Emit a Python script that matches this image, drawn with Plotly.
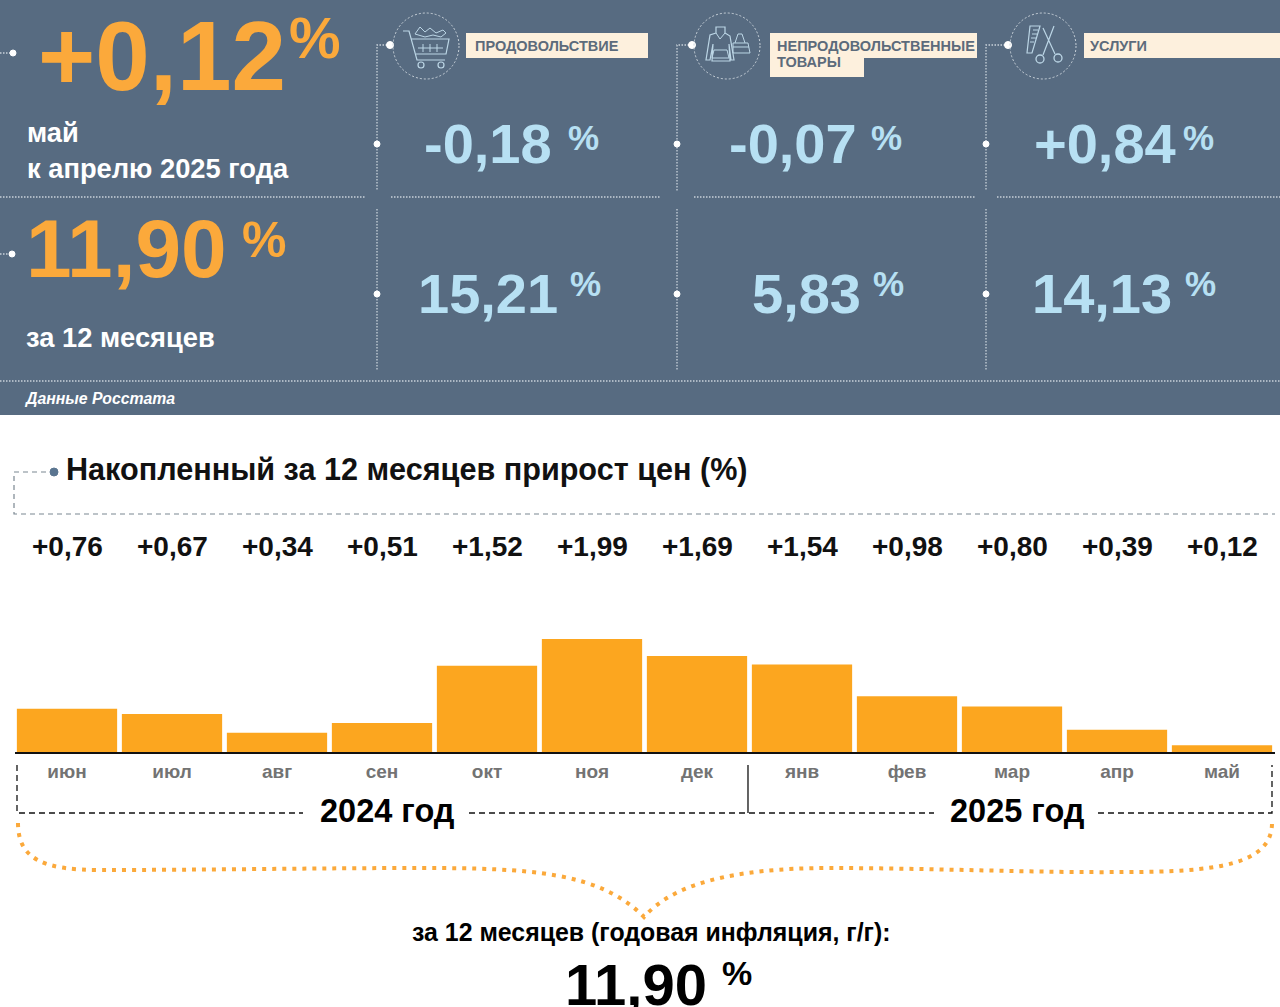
import re
import plotly.graph_objects as go

W, H = 1280, 1007

# ======================
# DATA
# ======================
months = ["июн", "июл", "авг", "сен", "окт", "ноя", "дек", "янв", "фев", "мар", "апр", "май"]
monthly_growth = [0.76, 0.67, 0.34, 0.51, 1.52, 1.99, 1.69, 1.54, 0.98, 0.80, 0.39, 0.12]

categories = ["ПРОДОВОЛЬСТВИЕ", "НЕПРОДОВОЛЬСТВЕННЫЕ", "ТОВАРЫ", "УСЛУГИ"]
month_values = ["-0,18", "-0,07", "+0,84"]
year_values = ["15,21", "5,83", "14,13"]

headline_month = "+0,12"
headline_year = "11,90"

PANEL = "#576b81"
ORANGE = "#fba93b"
BAR = "#fca61f"
BLUE = "#b7e0f3"
CREAM = "#fdf0dd"
DOTS = "#c9d2da"
ICON = "#bcd6e6"

FONT = "Liberation Sans"


# pixel -> paper helpers
def px(x):
    return x / W


def py(y):
    return 1 - y / H


def svg(d):
    # path written in pixels, converted to paper coords
    n = [0]

    def conv(m):
        v = float(m.group())
        n[0] += 1
        return f"{px(v):.5f}" if n[0] % 2 == 1 else f"{py(v):.5f}"

    return re.sub(r"\d+\.?\d*", conv, d)


shapes = []
notes = []


def rect(x0, y0, x1, y1, color):
    shapes.append(dict(type="rect", xref="paper", yref="paper", x0=px(x0), x1=px(x1),
                       y0=py(y0), y1=py(y1), fillcolor=color, line_width=0, layer="below"))


def line(d, color=DOTS, width=1.3, dash="solid"):
    shapes.append(dict(type="path", xref="paper", yref="paper", path=svg(d),
                       line=dict(color=color, width=width, dash=dash)))


def circle(cx, cy, r, fill=None, color=DOTS, width=1, dash="solid"):
    shapes.append(dict(type="circle", xref="paper", yref="paper",
                       x0=px(cx - r), x1=px(cx + r), y0=py(cy - r), y1=py(cy + r),
                       fillcolor=fill if fill else "rgba(0,0,0,0)",
                       line=dict(color=color, width=width, dash=dash)))


def note(x, y, text, size, color="#000000", weight=700, anchor="left", style="normal"):
    # annotations sit about 2px right of the anchor
    x = x - 2 if anchor == "left" else x
    notes.append(dict(xref="paper", yref="paper", x=px(x), y=py(y), text=text,
                      showarrow=False, xanchor=anchor, yanchor="middle", align="left",
                      font=dict(family=FONT, size=size, color=color, weight=weight, style=style)))


# ======================
# TOP PANEL
# ======================
rect(0, 0, W, 415, PANEL)

DOT_DASH = "1.5px,1.5px"
for x0, x1 in [(0, 365), (391, 660), (694, 976), (997, 1280)]:
    line(f"M{x0} 197 L{x1} 197", dash=DOT_DASH)
line("M0 381 L1280 381", dash=DOT_DASH)

for xv, xdot, xc in [(377, 390, 426), (677, 692, 727), (986, 1008, 1043)]:
    line(f"M{xdot} 45 L{xv} 45 L{xv} 191", dash=DOT_DASH)
    line(f"M{xv} 209 L{xv} 371", dash=DOT_DASH)
    circle(xdot, 45, 3.5, fill="#ffffff", color="#ffffff")
    circle(xv, 144, 3, fill="#ffffff", color="#ffffff")
    circle(xv, 294, 3, fill="#ffffff", color="#ffffff")
    circle(xc, 46, 33, dash="2px,2px")

line("M0 53 L10 53", dash=DOT_DASH)
circle(13, 53, 3, fill="#ffffff", color="#ffffff")
line("M0 254 L10 254", dash=DOT_DASH)
circle(12, 254, 3, fill="#ffffff", color="#ffffff")

# category tags
rect(466, 33, 648, 58, CREAM)
rect(770, 33, 977, 58, CREAM)
rect(770, 58, 864, 77, CREAM)
rect(1084, 33, 1280, 58, CREAM)
note(475, 46, categories[0], 14.5, "#5c6b7b")
note(777, 46, categories[1], 14.5, "#5c6b7b")
note(777, 62, categories[2], 14.5, "#5c6b7b")
note(1090, 46, categories[3], 14.5, "#5c6b7b")

# cart icon
line("M403 31 L409 31 L417 60 L445 60", ICON, 1.2)
line("M411 39 L449 39 L446 54 L416 54", ICON, 1.2)
line("M418 48 L443 48 M423 44 L423 52 M430 44 L430 52 M437 44 L437 52", ICON, 1)
line("M415 34 L420 27 L425 32 L430 28 L436 33 L443 30 L446 33 L441 37 L433 35 L425 37 Z", ICON, 1)
circle(421, 65, 3, color=ICON, width=1.2)
circle(441, 65, 3, color=ICON, width=1.2)

# clothes icon
line("M716 33 L710 35 L706 60 L710 60 L713 44 L712 61 L730 61 L729 44 L731 60 L734 60 "
     "L730 36 L725 33 L725 27 L716 27 Z", ICON, 1.2)
line("M716 33 L720 39 L725 33 M714 50 L727 50 L729 58 L712 58 Z", ICON, 1)
line("M733 43 L748 43 L750 53 L733 53 Z M735 43 L738 34 L742 34 L745 43 M733 47 L749 47", ICON, 1)

# scissors / comb icon
line("M1030 26 L1040 26 L1032 53 L1027 53 Z M1033 30 L1038 30 M1032 34 L1037 34 "
     "M1031 38 L1036 38 M1030 42 L1034 42", ICON, 1.2)
line("M1043 28 L1055 54 M1054 26 L1043 55", ICON, 1.2)
circle(1058, 58, 4, color=ICON, width=1.3)
circle(1040, 59, 4, color=ICON, width=1.3)

# headline numbers
note(38, 56, headline_month, 98, ORANGE)
note(289, 38, "%", 58, ORANGE)
note(27, 133, "май", 27.3, "#ffffff")
note(27, 168, "к апрелю 2025 года", 27.3, "#ffffff")
note(26, 249, headline_year, 82, ORANGE)
note(242, 240, "%", 50, ORANGE)
note(26, 337, "за 12 месяцев", 27.3, "#ffffff")
note(24, 398, "Данные Росстата", 15.8, "#ffffff", style="italic")

for val, x_num, x_pct in zip(month_values, [424, 729, 1034], [568, 871, 1183]):
    note(x_num, 144, val, 56, BLUE)
    note(x_pct, 137, "%", 35, BLUE)
for val, x_num, x_pct in zip(year_values, [418, 752, 1032], [570, 873, 1185]):
    note(x_num, 293, val, 56, BLUE)
    note(x_pct, 283, "%", 35, BLUE)

# ======================
# LOWER PART
# ======================
line("M46 472 L14 472 L14 514 L1275 514", "#7b8791", 1.2, "5px,4px")
circle(54, 472, 4, fill="#5a7590", color="#5a7590")
note(66, 469, "Накопленный за 12 месяцев прирост цен (%)", 30.6, "#111111")

for i, v in enumerate(monthly_growth):
    label = f"{v:+.2f}".replace(".", ",")
    notes.append(dict(xref="x", yref="paper", x=i, y=py(546), text=label, showarrow=False,
                      xanchor="center", yanchor="middle",
                      font=dict(family=FONT, size=28, color="#111111", weight=700)))

DASH = "6px,4px"
line("M17 765 L17 813 L303 813 M469 813 L748 813 L934 813 "
     "M1098 813 L1272 813 L1272 765", "#111111", 1.3, DASH)
line("M748 765 L748 813", "#111111", 1.3)
note(320, 811, "2024 год", 32.5)
note(950, 811, "2025 год", 32.5)

line("M18 823 C18 860 45 870 100 870 C200 870 320 868 421 868 "
     "C530 868 600 872 644 917 C672 885 730 868 830 868 "
     "C930 868 1040 873 1125 872 C1215 872 1272 865 1272 823", ORANGE, 4, "4px,6px")

note(651, 932, "за 12 месяцев (годовая инфляция, г/г):", 24.9, anchor="center")
note(565, 984, headline_year, 58)
note(722, 973, "%", 34)

# ======================
# BARS
# ======================
fig = go.Figure(go.Bar(
    x=months,
    y=monthly_growth,
    width=0.955,
    marker=dict(color=BAR, line_width=0),
    hoverinfo="skip",
))

fig.update_layout(
    width=W,
    height=H,
    margin=dict(l=0, r=0, t=0, b=0),
    paper_bgcolor="#ffffff",
    plot_bgcolor="rgba(0,0,0,0)",
    showlegend=False,
    shapes=shapes,
    annotations=notes,
    xaxis=dict(
        domain=[px(15), px(1275)],
        type="category",
        categoryorder="array",
        categoryarray=months,
        range=[(15 - 67) / 105, (1275 - 67) / 105],
        showgrid=False,
        showline=True,
        linecolor="#111111",
        linewidth=2,
        ticks="outside",
        ticklen=1,
        tickcolor="rgba(0,0,0,0)",
        tickfont=dict(family=FONT, size=19, color="#737373", weight=700),
        zeroline=False,
    ),
    yaxis=dict(
        domain=[py(752), py(620)],
        range=[0, 132 / 56.8],
        visible=False,
    ),
)

fig.write_html(
    "out.html",
    config={"displayModeBar": False},
    post_script="document.body.style.margin='0';document.body.style.overflow='hidden';",
)
